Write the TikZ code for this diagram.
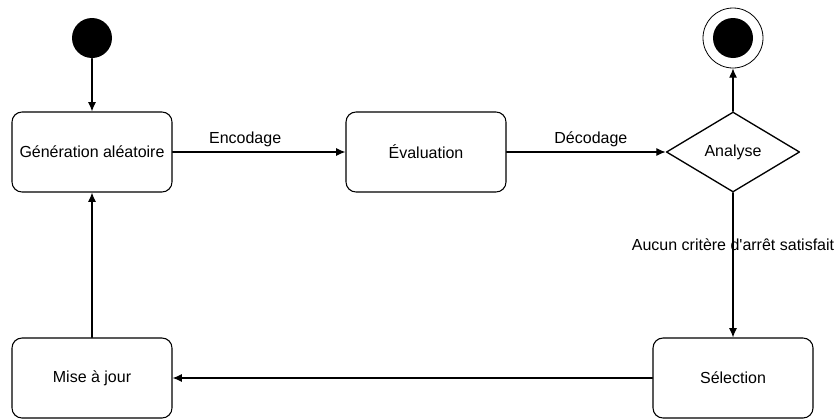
\documentclass[tikz,border=0pt]{standalone}
\usepackage{fontspec}
\setmainfont{Liberation Sans}[Ligatures=TeXOff]
\usepackage{tikz}
\usetikzlibrary{arrows.meta, positioning, shapes.geometric}
\tikzset{every node/.style={font=\fontsize{12pt}{14pt}\selectfont}, every path/.style={line cap=round, line join=round}, >={Latex[length=7pt, width=6pt]}}
\tikzset{
    state/.style={draw, rounded corners=7.5pt, minimum width=120pt, minimum height=60pt, align=center, line width=0.8pt},
    choice/.style={draw, diamond, minimum width=100pt, minimum height=60pt, inner sep=0pt, line width=1pt},
    startdot/.style={circle, fill=black, minimum size=30pt, inner sep=0pt},
    enddot/.style={circle, draw, minimum size=45pt, inner sep=0pt, line width=0.6pt}
}

\begin{document}
\begin{tikzpicture}[x=0.75pt, y=-0.75pt, line width=0.8pt]
    \useasboundingbox (0,0) rectangle (835,418);
    % nodes
    \node [startdot] (start) at (92,38) {};
    \node [state] (gen) at (92,152) {Génération aléatoire};
    \node [state] (eval) at (426,152) {Évaluation};
    \node [choice] (analyse) at (733,152) {Analyse};
    \node [enddot] (stop) at (733,38) {};
    \node [startdot] (stopdot) at (stop) {};
    \node [state] (select) at (733,378) {Sélection};
    \node [state] (update) at (92,378) {Mise à jour};
    % transitions
    \draw [->] (start) -- (gen);
    \draw [->] (gen) -- node [above, pos=0.42] {Encodage} (eval);
    \draw [->] (eval) -- node [above, pos=0.53] {Décodage} (analyse);
    \draw [->] (analyse) -- (stop);
    \draw [->] (analyse) -- node [pos=0.36] {Aucun critère d'arrêt satisfait} (select);
    \draw [->] (select) -- (update);
    \draw [->] (update) -- (gen);
\end{tikzpicture}
\end{document}
